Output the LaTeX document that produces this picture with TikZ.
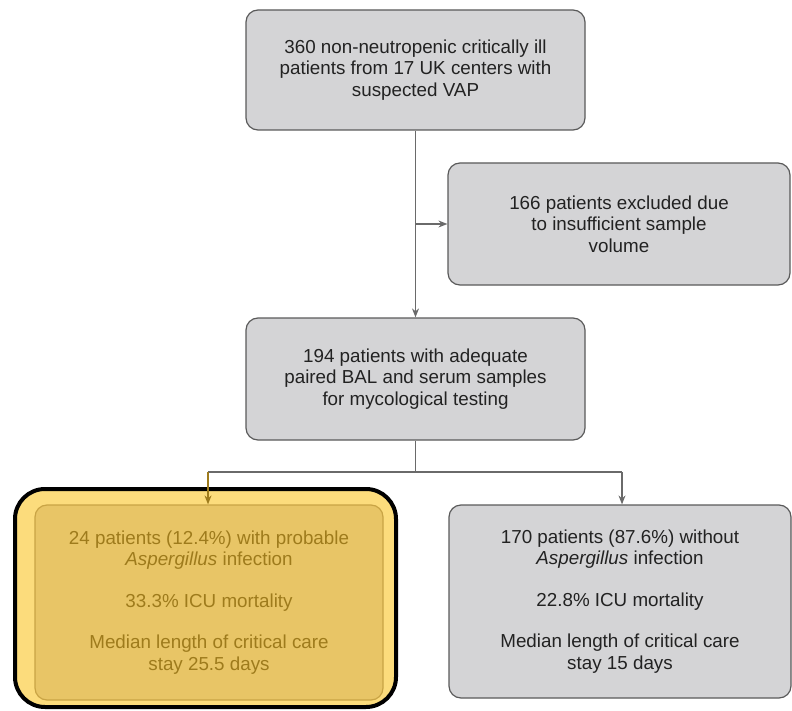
\documentclass[tikz,border=0pt]{standalone}
\usepackage{fontspec}
\setmainfont{Liberation Sans}
\usetikzlibrary{arrows.meta}
\definecolor{boxfill}{HTML}{D4D4D6}
\definecolor{boxline}{HTML}{5A5A5A}
\definecolor{txt}{HTML}{222222}
\definecolor{conn}{HTML}{6A6A6A}
\definecolor{yelout}{HTML}{FCDC7C}
\definecolor{yelin}{HTML}{E8C566}
\definecolor{yelline}{HTML}{C9A445}
\definecolor{yeltxt}{HTML}{9E7B1C}
\begin{document}
\begin{tikzpicture}[x=1pt,y=-1pt,
  flowbox/.style={draw=boxline,fill=boxfill,line width=1.2pt,rounded corners=12pt,
    text=txt,align=center,font=\fontsize{18.8}{21.5}\selectfont,inner sep=0pt},
  conline/.style={draw=conn,line width=1.2pt},
  arr/.style={conline,-{Stealth[length=9pt,width=7pt]}}]
\useasboundingbox (0,0) rectangle (792,711);
% boxes
\node[flowbox,minimum width=339pt,minimum height=120pt] (top) at (415.5,70)
  {360 non-neutropenic critically ill\\patients from 17 UK centers with\\suspected VAP};
\node[flowbox,minimum width=342pt,minimum height=122pt] (excl) at (619,224)
  {166 patients excluded due\\to insufficient sample\\volume};
\node[flowbox,minimum width=339pt,minimum height=122pt] (mid) at (415.5,379)
  {194 patients with adequate\\paired BAL and serum samples\\for mycological testing};
\node[draw=black,fill=yelout,line width=4pt,rounded corners=30pt,
  minimum width=381pt,minimum height=218pt,inner sep=0pt] (yout) at (205.5,598) {};
\node[draw=yelline,fill=yelin,line width=1.2pt,rounded corners=12pt,
  minimum width=348pt,minimum height=195pt,text=yeltxt,align=center,
  font=\fontsize{18.8}{21.5}\selectfont,inner sep=0pt] (yes) at (209,602.5)
  {24 patients (12.4\%) with probable\\\textit{Aspergillus} infection\\[20pt]33.3\% ICU mortality\\[20pt]Median length of critical care\\stay 25.5 days};
\node[flowbox,minimum width=342pt,minimum height=193pt] (no) at (620,601.5)
  {170 patients (87.6\%) without\\\textit{Aspergillus} infection\\[20pt]22.8\% ICU mortality\\[20pt]Median length of critical care\\stay 15 days};
% connectors
\draw[arr] (top.south) -- (mid.north);
\coordinate (br) at (top.south |- excl.west);
\draw[arr] (br) -- (excl.west);
\coordinate (split) at (415.5,472);
\coordinate (lt) at (208,472);
\coordinate (rt) at (622,472);
\draw[conline] (mid.south) -- (split);
\draw[conline] (lt) -- (rt);
\draw[conline,draw=yeltxt,-{Stealth[length=9pt,width=7pt]}] (lt) -- (lt |- yes.north);
\draw[arr,draw=conn] (rt) -- (rt |- no.north);
\end{tikzpicture}
\end{document}
